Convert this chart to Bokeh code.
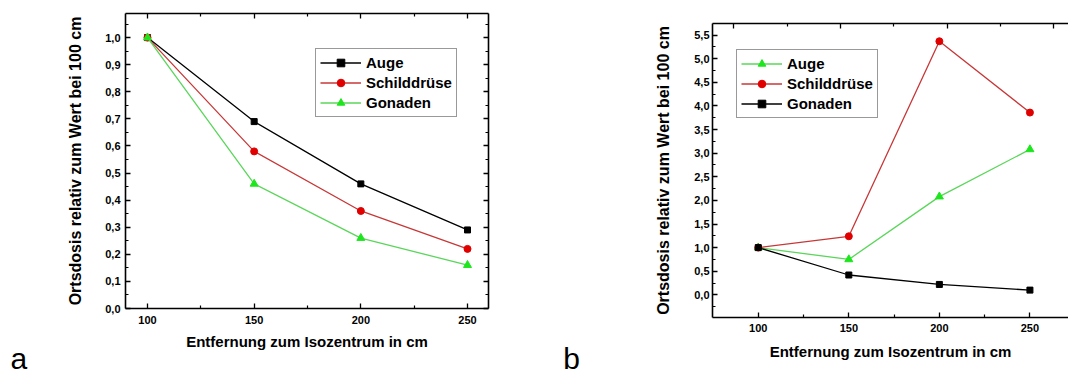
from bokeh.plotting import figure
from bokeh.models import (Range1d, LinearAxis, FixedTicker, CustomJSTickFormatter,
                          Label, Legend, LegendItem)
from bokeh.layouts import row
from bokeh.embed import file_html
from bokeh.resources import INLINE

# ---- data ----
distances = [100, 150, 200, 250]
x_ticks = [100, 150, 200, 250]
x_minor = [125, 175, 225]

a_auge = [1.0, 0.69, 0.46, 0.29]
a_schild = [1.0, 0.58, 0.36, 0.22]
a_gonaden = [1.0, 0.46, 0.26, 0.16]

b_auge = [1.0, 0.75, 2.08, 3.08]
b_schild = [1.0, 1.24, 5.37, 3.86]
b_gonaden = [1.0, 0.42, 0.22, 0.10]

a_y_ticks = [round(0.1 * i, 2) for i in range(11)]
a_y_minor = [round(0.05 + 0.1 * i, 3) for i in range(11)]
b_y_ticks = [round(0.5 * i, 2) for i in range(12)]
b_y_minor = [round(-0.25 + 0.5 * i, 3) for i in range(12)]

series_labels = ["Auge", "Schilddrüse", "Gonaden"]
x_label = "Entfernung zum Isozentrum in cm"
y_label = "Ortsdosis relativ zum Wert bei 100 cm"
panel_letters = ["a", "b"]

FONT = "Liberation Sans"
BLACK = "#000000"
RED_LINE, RED_MK = "#c83737", "#e00000"
GREEN_LINE, GREEN_MK = "#5ad65a", "#1ee61e"

comma_fmt = CustomJSTickFormatter(code="return tick.toFixed(1).replace('.', ',');")
blank_fmt = CustomJSTickFormatter(code="return '';")


def style_axis(ax, labels=True):
    ax.major_tick_in = 5
    ax.major_tick_out = 0
    ax.minor_tick_in = 3
    ax.minor_tick_out = 0
    ax.axis_line_width = 1.6
    ax.axis_line_color = BLACK
    ax.major_tick_line_color = BLACK
    ax.minor_tick_line_color = BLACK
    ax.major_tick_line_width = 1.3
    ax.minor_tick_line_width = 1.2
    ax.major_label_text_font = FONT
    ax.major_label_text_font_style = "bold"
    ax.major_label_text_color = BLACK
    ax.major_label_text_font_size = "11px"
    if not labels:
        ax.formatter = blank_fmt
        ax.major_label_text_font_size = "1px"
        ax.major_label_standoff = 0
    ax.axis_label_text_font = FONT
    ax.axis_label_text_font_style = "bold"
    ax.axis_label_text_color = BLACK


def make_fig(width, height, xr, yr, bl, bt, bb, br):
    p = figure(width=width, height=height, x_range=Range1d(*xr), y_range=Range1d(*yr),
               output_backend="svg", toolbar_location=None,
               x_axis_location=None, y_axis_location=None,
               min_border_left=bl, min_border_top=bt, min_border_bottom=bb,
               min_border_right=br)
    p.frame_align = False
    p.grid.grid_line_color = None
    p.outline_line_color = None
    p.background_fill_color = "white"
    p.border_fill_color = "white"
    return p


def add_series(p, ys, color_line, color_mk, marker, size):
    l = p.line(distances, ys, line_color=color_line, line_width=1.3)
    s = p.scatter(distances, ys, marker=marker, size=size,
                  fill_color=color_mk, line_color=color_mk)
    return [l, s]


def style_legend(leg):
    leg.label_text_font = FONT
    leg.label_text_font_style = "bold"
    leg.label_text_font_size = "15px"
    leg.label_text_color = BLACK
    leg.glyph_width = 41
    leg.glyph_height = 19
    leg.label_height = 19
    leg.label_standoff = 5
    leg.spacing = 1
    leg.padding = 4
    leg.margin = 0
    leg.border_line_color = "#333333"
    leg.border_line_width = 1.3
    leg.background_fill_alpha = 1.0


# ---- chart a ----  (frame x 125-488, y 13-308)
p1 = make_fig(540, 376, (89.69, 259.84), (0.0, 1.089), 125, 13, 68, 52)

ax = LinearAxis(ticker=FixedTicker(ticks=a_y_ticks, minor_ticks=a_y_minor), formatter=comma_fmt,
                axis_label=y_label)
style_axis(ax)
ax.axis_label_text_font_size = "16px"
ax.axis_label_standoff = 18
p1.add_layout(ax, "left")

ax = LinearAxis(ticker=FixedTicker(ticks=x_ticks, minor_ticks=x_minor), axis_label=x_label)
style_axis(ax)
ax.major_label_standoff = 7
ax.axis_label_text_font_size = "15px"
ax.axis_label_standoff = 6
p1.add_layout(ax, "below")

ax = LinearAxis(ticker=FixedTicker(ticks=x_ticks, minor_ticks=x_minor))
style_axis(ax, labels=False)
p1.add_layout(ax, "above")

ax = LinearAxis(ticker=FixedTicker(ticks=a_y_ticks, minor_ticks=a_y_minor))
style_axis(ax, labels=False)
p1.add_layout(ax, "right")

r_a1 = add_series(p1, a_auge, BLACK, BLACK, "square", 6)
r_a2 = add_series(p1, a_schild, RED_LINE, RED_MK, "circle", 7)
r_a3 = add_series(p1, a_gonaden, GREEN_LINE, GREEN_MK, "triangle", 8)

leg1 = Legend(items=[LegendItem(label=series_labels[0], renderers=r_a1),
                     LegendItem(label=series_labels[1], renderers=r_a2),
                     LegendItem(label=series_labels[2], renderers=r_a3)],
              location=(190, 191))
style_legend(leg1)
p1.add_layout(leg1)

# panel letter, in data units inside a side panel so that it is not clipped
p1.add_layout(Label(x=35.8, y=-0.183, text=panel_letters[0],
                    text_font=FONT, text_font_size="30px", text_color=BLACK,
                    text_baseline="middle"), "left")

# ---- chart b ----  (frame x 712-1068, y 23-317)
p2 = make_fig(528, 376, (74.73, 271.3), (-0.48, 5.746), 172, 23, 59, 0)
p2.extra_x_ranges = {"top": Range1d(90.0, 256.9)}

ax = LinearAxis(ticker=FixedTicker(ticks=b_y_ticks, minor_ticks=b_y_minor), formatter=comma_fmt,
                axis_label=y_label)
style_axis(ax)
ax.major_label_standoff = 3
ax.axis_label_text_font_size = "16px"
ax.axis_label_standoff = 19
p2.add_layout(ax, "left")

ax = LinearAxis(ticker=FixedTicker(ticks=x_ticks, minor_ticks=x_minor), axis_label=x_label)
style_axis(ax)
ax.major_label_standoff = 6
ax.axis_label_text_font_size = "15px"
ax.axis_label_standoff = 8
p2.add_layout(ax, "below")

ax = LinearAxis(ticker=FixedTicker(ticks=x_ticks, minor_ticks=x_minor), x_range_name="top")
style_axis(ax, labels=False)
p2.add_layout(ax, "above")

r_b1 = add_series(p2, b_auge, GREEN_LINE, GREEN_MK, "triangle", 8)
r_b2 = add_series(p2, b_schild, RED_LINE, RED_MK, "circle", 7)
r_b3 = add_series(p2, b_gonaden, BLACK, BLACK, "square", 6)

leg2 = Legend(items=[LegendItem(label=series_labels[0], renderers=r_b1),
                     LegendItem(label=series_labels[1], renderers=r_b2),
                     LegendItem(label=series_labels[2], renderers=r_b3)],
              location=(24, 199))
style_legend(leg2)
p2.add_layout(leg2)

p2.add_layout(Label(x=-7.65, y=-1.349, text=panel_letters[1],
                    text_font=FONT, text_font_size="30px", text_color=BLACK,
                    text_baseline="middle"), "left")

layout = row(p1, p2)
open("out.html", "w").write(file_html(layout, INLINE))
